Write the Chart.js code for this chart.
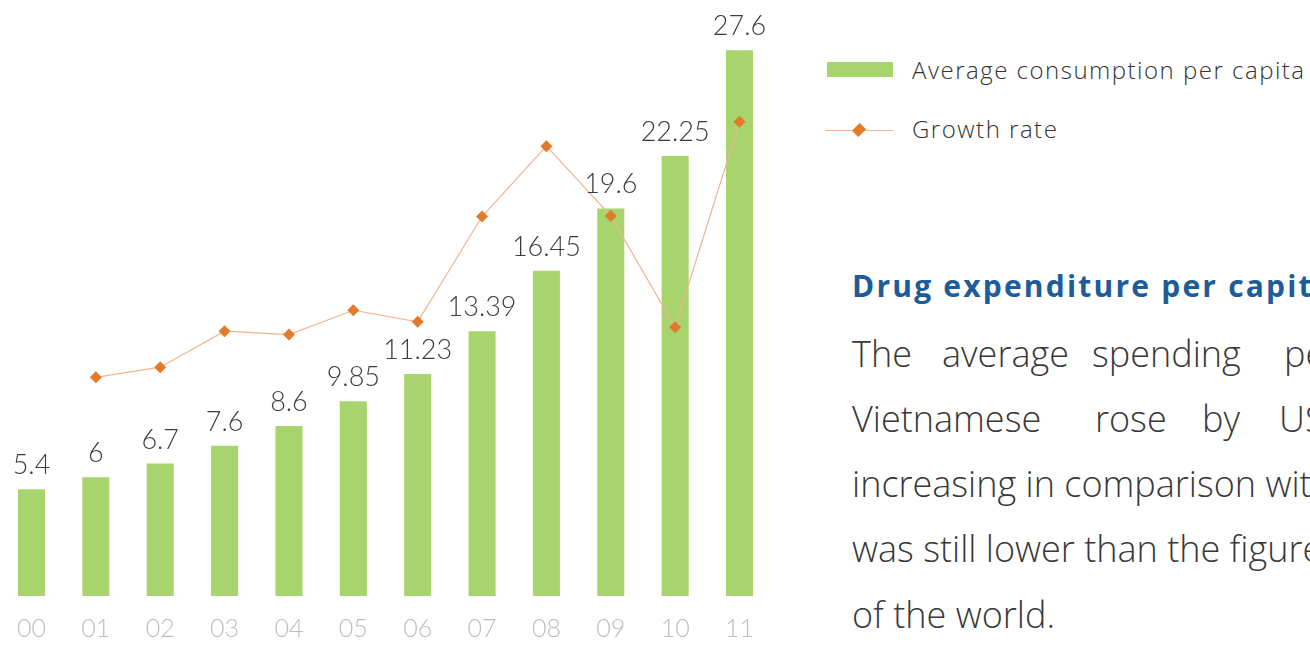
<!DOCTYPE html>
<html>
<head>
<meta charset="utf-8">
<script src="https://cdn.jsdelivr.net/npm/chart.js@4.4.1/dist/chart.umd.min.js"></script>
<style>
  html, body { margin: 0; padding: 0; background: #ffffff; }
  body { width: 1310px; height: 646px; position: relative; overflow: hidden; font-family: "Open Sans", Lato, sans-serif; }
  #chartBox { position: absolute; left: -1px; top: 0; width: 773px; height: 662px; }
  #legend { position: absolute; left: 0; top: 0; }
  .legend-text { position: absolute; left: 912px; font-size: 24px; font-weight: 300; color: #333; line-height: normal; letter-spacing: 1.5px; white-space: nowrap; }
  .swatch-bar { position: absolute; left: 827px; top: 62px; width: 66px; height: 15px; }
  .swatch-line { position: absolute; left: 825px; top: 130px; width: 68px; height: 1px; }
  .swatch-dot { position: absolute; left: 854px; top: 125px; width: 10px; height: 10px; transform: rotate(45deg) scale(0.9, 1.1); }
  .txt { position: absolute; left: 852px; white-space: nowrap; line-height: normal; }
  .title { font-size: 30px; font-weight: 700; color: #1d5c9a; letter-spacing: 2.2px; }
  .para { font-size: 36px; font-weight: 300; color: #383838; }
  .word { position: absolute; top: 0; }
</style>
</head>
<body>
<div id="chartBox"><canvas id="chart"></canvas></div>
<div id="legend"></div>
<div class="txt title" style="top:265px">Drug expenditure per capita</div>
<div class="txt para" style="top:329px; left:0"><span class="word" style="left:852px">The</span><span class="word" style="left:942px">average</span><span class="word" style="left:1092px">spending</span><span class="word" style="left:1284px">per</span></div>
<div class="txt para" style="top:394px; left:0"><span class="word" style="left:852px">Vietnamese</span><span class="word" style="left:1095px">rose</span><span class="word" style="left:1202px">by</span><span class="word" style="left:1279px">US$</span></div>
<div class="txt para" style="top:459px">increasing in comparison with</div>
<div class="txt para" style="top:524px">was still lower than the figure</div>
<div class="txt para" style="top:590px">of the world.</div>
<script>
// Years (2000–2011) shown as two-digit labels
const years = ['00', '01', '02', '03', '04', '05', '06', '07', '08', '09', '10', '11'];
// Average drug consumption per capita (USD)
const consumption = [5.4, 6, 6.7, 7.6, 8.6, 9.85, 11.23, 13.39, 16.45, 19.6, 22.25, 27.6];
// Year-on-year growth rate (%), no value for the first year
const growthRate = [null, 11.06, 11.57, 13.39, 13.22, 14.45, 13.87, 19.19, 22.75, 19.22, 13.59, 23.98];

const seriesNames = ['Average consumption per capita', 'Growth rate'];
const barColor = '#a7d46d';
const lineColor = '#f2b48c';
const markerColor = '#e27a2a';

// Value labels above each bar
const barValueLabels = {
  id: 'barValueLabels',
  afterDatasetsDraw(chart) {
    const ctx = chart.ctx;
    const idx = chart.data.datasets.findIndex(d => d.type === 'bar');
    const meta = chart.getDatasetMeta(idx);
    ctx.save();
    ctx.font = '300 27px Lato, "Open Sans", sans-serif';
    ctx.fillStyle = '#3c3c3c';
    ctx.textAlign = 'center';
    ctx.textBaseline = 'alphabetic';
    meta.data.forEach((bar, i) => {
      ctx.fillText(String(consumption[i]), bar.x, bar.y - 15);
    });
    ctx.restore();
  }
};

const chart = new Chart(document.getElementById('chart'), {
  data: {
    labels: years,
    datasets: [
      {
        type: 'line',
        label: seriesNames[1],
        data: growthRate,
        order: 0,
        borderColor: lineColor,
        borderWidth: 1.2,
        pointStyle: 'rectRot',
        pointRadius: 6,
        pointBackgroundColor: markerColor,
        pointBorderColor: markerColor,
        pointBorderWidth: 0,
        tension: 0,
        clip: false
      },
      {
        type: 'bar',
        label: seriesNames[0],
        data: consumption,
        order: 1,
        backgroundColor: barColor,
        borderWidth: 0,
        barPercentage: 0.42,
        categoryPercentage: 1
      }
    ]
  },
  options: {
    responsive: true,
    maintainAspectRatio: false,
    animation: false,
    layout: { autoPadding: false, padding: 0 },
    plugins: { legend: { display: false }, tooltip: { enabled: false } },
    scales: {
      x: {
        offset: true,
        grid: { display: false, drawTicks: false },
        border: { display: false },
        ticks: {
          padding: 18,
          color: '#bdbdbd',
          font: { family: 'Lato, "Open Sans", sans-serif', size: 25, weight: '300' }
        }
      },
      y: {
        display: false,
        min: 0,
        max: 30.14
      }
    }
  },
  plugins: [barValueLabels]
});

// Legend built from the chart's own datasets
const legend = document.getElementById('legend');
const barDs = chart.data.datasets[1];
const lineDs = chart.data.datasets[0];
legend.innerHTML =
  '<div class="swatch-bar" style="background:' + barDs.backgroundColor + '"></div>' +
  '<div class="legend-text" style="top:53px">' + barDs.label + '</div>' +
  '<div class="swatch-line" style="background:' + lineDs.borderColor + '"></div>' +
  '<div class="swatch-dot" style="background:' + lineDs.pointBackgroundColor + '"></div>' +
  '<div class="legend-text" style="top:112px">' + lineDs.label + '</div>';
</script>
</body>
</html>
